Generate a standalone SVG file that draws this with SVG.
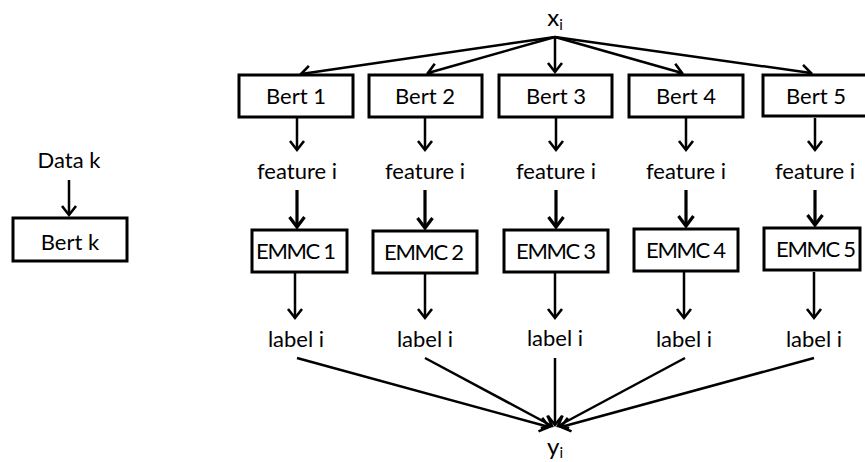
<svg xmlns="http://www.w3.org/2000/svg" width="865" height="462" viewBox="0 0 865 462">
<style>
text{font-family:Lato,"Liberation Sans",sans-serif;font-size:22px;fill:#000;text-anchor:middle}
.box{fill:#fff;stroke:#000;stroke-width:3}
.c{stroke:#000;stroke-width:2.5;fill:none}
.t{stroke:#000;stroke-width:3.2;fill:none}
.sub{font-size:15px}
.xy{font-size:24px}
</style>
<defs>
<marker id="ah" viewBox="-12 -10 14 20" markerWidth="14" markerHeight="20" refX="0" refY="0" markerUnits="userSpaceOnUse" orient="auto" overflow="visible">
<path d="M-9,-7 L0,0 L-9,7" fill="none" stroke="#000" stroke-width="2.6"/>
</marker>
<marker id="ahb" viewBox="-12 -10 14 20" markerWidth="14" markerHeight="20" refX="0" refY="0" markerUnits="userSpaceOnUse" orient="auto" overflow="visible">
<path d="M-10,-7.5 L0,0 L-10,7.5" fill="none" stroke="#000" stroke-width="3.2"/>
</marker>
</defs>
<rect width="865" height="462" fill="#fff"/>
<g id="connectors">
<line class="c" x1="69" y1="180" x2="69" y2="215" marker-end="url(#ah)"/>
<line class="c" x1="555" y1="37" x2="301" y2="74" marker-end="url(#ah)"/>
<line class="c" x1="555" y1="37" x2="428" y2="73" marker-end="url(#ah)"/>
<line class="c" x1="555" y1="37" x2="555" y2="72" marker-end="url(#ah)"/>
<line class="c" x1="555" y1="37" x2="682" y2="73" marker-end="url(#ah)"/>
<line class="c" x1="555" y1="37" x2="811" y2="73" marker-end="url(#ah)"/>
<line class="c" x1="297" y1="118" x2="297" y2="150" marker-end="url(#ah)"/>
<line class="c" x1="425" y1="118" x2="425" y2="150" marker-end="url(#ah)"/>
<line class="c" x1="556" y1="118" x2="556" y2="150" marker-end="url(#ah)"/>
<line class="c" x1="686" y1="118" x2="686" y2="150" marker-end="url(#ah)"/>
<line class="c" x1="815" y1="118" x2="815" y2="150" marker-end="url(#ah)"/>
<line class="t" x1="297" y1="190" x2="297" y2="227" marker-end="url(#ahb)"/>
<line class="t" x1="425" y1="190" x2="425" y2="228" marker-end="url(#ahb)"/>
<line class="t" x1="556" y1="190" x2="556" y2="227" marker-end="url(#ahb)"/>
<line class="t" x1="686" y1="190" x2="686" y2="226" marker-end="url(#ahb)"/>
<line class="t" x1="815" y1="190" x2="815" y2="225" marker-end="url(#ahb)"/>
<line class="c" x1="295" y1="273" x2="295" y2="318" marker-end="url(#ah)"/>
<line class="c" x1="425" y1="274" x2="425" y2="318" marker-end="url(#ah)"/>
<line class="c" x1="555" y1="273" x2="555" y2="318" marker-end="url(#ah)"/>
<line class="c" x1="684" y1="272" x2="684" y2="318" marker-end="url(#ah)"/>
<line class="c" x1="814" y1="272" x2="814" y2="318" marker-end="url(#ah)"/>
<line class="c" x1="297" y1="358" x2="549" y2="427" marker-end="url(#ah)"/>
<line class="c" x1="425" y1="358" x2="552" y2="426" marker-end="url(#ah)"/>
<line class="c" x1="555" y1="358" x2="555" y2="425" marker-end="url(#ah)"/>
<line class="c" x1="685" y1="358" x2="558" y2="426" marker-end="url(#ah)"/>
<line class="c" x1="814" y1="358" x2="561" y2="427" marker-end="url(#ah)"/>
</g>
<g id="xi"><text class="xy" x="555" y="26">x<tspan class="sub" dy="4">i</tspan></text></g>
<g id="yi"><text class="xy" x="555" y="455">y<tspan class="sub" dy="3">i</tspan></text></g>
<g id="datak"><text x="69" y="168">Data k</text></g>
<g id="bertk"><rect class="box" x="13" y="218" width="114" height="43"/><text x="70" y="250">Bert k</text></g>
<g id="bert1"><rect class="box" x="239" y="75" width="114" height="42"/><text x="296" y="104">Bert 1</text></g>
<g id="bert2"><rect class="box" x="369" y="75" width="113" height="42"/><text x="425" y="104">Bert 2</text></g>
<g id="bert3"><rect class="box" x="499" y="75" width="113" height="42"/><text x="556" y="104">Bert 3</text></g>
<g id="bert4"><rect class="box" x="629" y="75" width="114" height="42"/><text x="686" y="104">Bert 4</text></g>
<g id="bert5"><rect class="box" x="763" y="75" width="110" height="41"/><text x="816" y="104">Bert 5</text></g>
<g id="feat1"><text x="297" y="179">feature i</text></g>
<g id="feat2"><text x="425" y="179">feature i</text></g>
<g id="feat3"><text x="556" y="179">feature i</text></g>
<g id="feat4"><text x="686" y="179">feature i</text></g>
<g id="feat5"><text x="815" y="179">feature i</text></g>
<g id="emmc1"><rect class="box" x="252" y="230" width="95" height="42"/><text x="296" y="259" textLength="80">EMMC 1</text></g>
<g id="emmc2"><rect class="box" x="373" y="231" width="104" height="42"/><text x="424" y="260" textLength="80">EMMC 2</text></g>
<g id="emmc3"><rect class="box" x="504" y="230" width="104" height="42"/><text x="556" y="259" textLength="80">EMMC 3</text></g>
<g id="emmc4"><rect class="box" x="634" y="229" width="104" height="42"/><text x="686" y="258" textLength="80">EMMC 4</text></g>
<g id="emmc5"><rect class="box" x="764" y="228" width="96" height="42"/><text x="816" y="257" textLength="80">EMMC 5</text></g>
<g id="label1"><text x="296" y="347">label i</text></g>
<g id="label2"><text x="425" y="347">label i</text></g>
<g id="label3"><text x="555" y="346">label i</text></g>
<g id="label4"><text x="684" y="347">label i</text></g>
<g id="label5"><text x="814" y="347">label i</text></g>
</svg>
